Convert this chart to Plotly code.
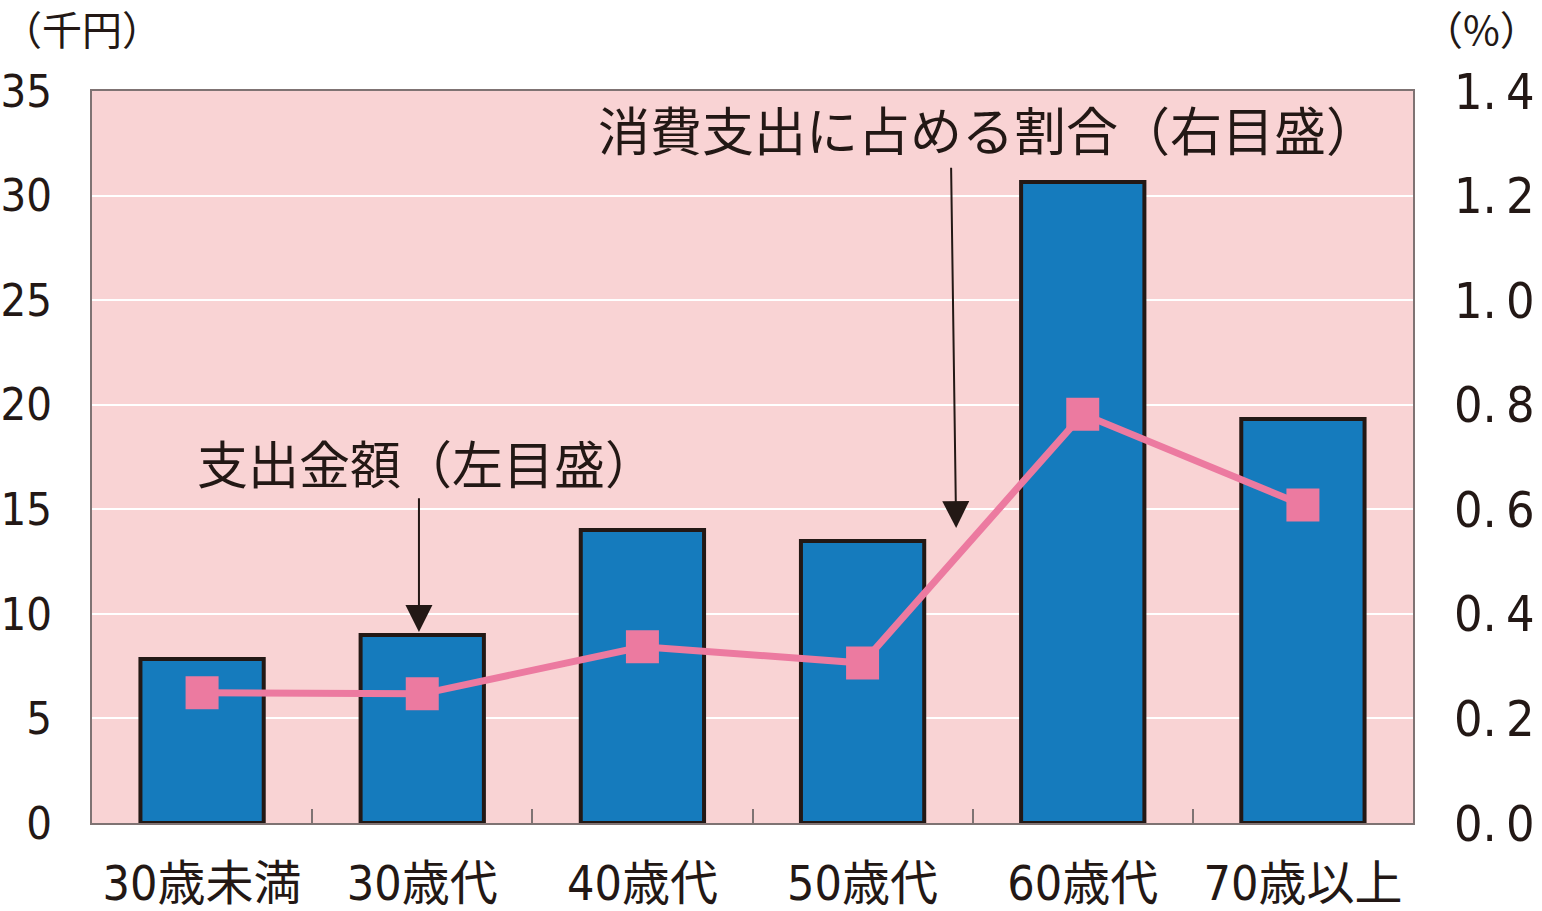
import plotly.graph_objects as go

# Data
categories = ['30歳未満', '30歳代', '40歳代', '50歳代', '60歳代', '70歳以上']
spending = [7.84, 8.99, 14.01, 13.48, 30.65, 19.32]     # 千円 (left axis)
share = [0.249, 0.247, 0.337, 0.306, 0.782, 0.608]      # % (right axis)
left_ticks = [0, 5, 10, 15, 20, 25, 30, 35]
right_ticks = [0.0, 0.2, 0.4, 0.6, 0.8, 1.0, 1.2, 1.4]
right_tick_labels = ['0.\u20090', '0.\u20092', '0.\u20094', '0.\u20096',
                     '0.\u20098', '1.\u20090', '1.\u20092', '1.\u20094']

TEXT = '#231815'
FONT = 'DejaVu Sans Condensed, Noto Sans CJK JP, sans-serif'
JP_FONT = 'Noto Sans CJK JP, sans-serif'

fig = go.Figure()

fig.add_trace(go.Bar(
    x=categories,
    y=spending,
    marker=dict(color='#157bbd', line=dict(color=TEXT, width=4)),
    yaxis='y',
    hoverinfo='skip'
))

fig.add_trace(go.Scatter(
    x=categories,
    y=share,
    mode='lines+markers',
    line=dict(color='#ec7aa0', width=7),
    marker=dict(symbol='square', size=33, color='#ec7aa0'),
    yaxis='y2',
    hoverinfo='skip'
))

fig.update_layout(
    width=1542,
    height=911,
    margin=dict(l=92, r=129, t=91, b=88),
    paper_bgcolor='white',
    plot_bgcolor='#f9d3d4',
    showlegend=False,
    bargap=0.44,
    font=dict(family=FONT, color=TEXT, size=52),
    xaxis=dict(
        automargin=False,
        showline=True, linecolor='#7f7373', linewidth=2, mirror=True,
        ticks='inside', tickson='boundaries', ticklen=14, tickcolor='#7f7373',
        tickwidth=1.5, showgrid=False,
        tickfont=dict(family=FONT, size=48, color=TEXT),
        ticklabelstandoff=17,
    ),
    yaxis=dict(
        automargin=False,
        range=[0, 35], tickvals=left_ticks,
        showline=True, linecolor='#7f7373', linewidth=2, mirror=True,
        showgrid=True, gridcolor='white', gridwidth=2, zeroline=False,
        ticks='', tickfont=dict(family=FONT, size=45, color=TEXT),
        ticklabelstandoff=29,
    ),
    yaxis2=dict(
        automargin=False,
        range=[0, 1.4], tickvals=right_ticks, ticktext=right_tick_labels,
        overlaying='y', side='right', showgrid=False, zeroline=False,
        ticks='', tickfont=dict(family=FONT, size=50, color=TEXT),
        ticklabelstandoff=40,
    ),
)

# Axis unit labels
fig.add_annotation(text='（千円）', xref='paper', yref='paper', x=-92 / 1321, y=1 + 63 / 732,
                   xanchor='left', yanchor='middle', showarrow=False,
                   font=dict(family=JP_FONT, size=40, color=TEXT))
fig.add_annotation(text='（%）', xref='paper', yref='paper', x=1 + 129 / 1321, y=1 + 63 / 732,
                   xanchor='right', yanchor='middle', showarrow=False,
                   font=dict(family=JP_FONT, size=40, color=TEXT))

# Series labels
fig.add_annotation(text='消費支出に占める割合（右目盛）', xref='x', yref='y', x=3.57, y=33.2,
                   xanchor='center', yanchor='middle', showarrow=False,
                   font=dict(family=JP_FONT, size=52, color=TEXT))
fig.add_annotation(text='支出金額（左目盛）', xref='x', yref='y', x=1.02, y=17.25,
                   xanchor='center', yanchor='middle', showarrow=False,
                   font=dict(family=JP_FONT, size=51, color=TEXT))

# Arrows
fig.add_annotation(text='', xref='x', yref='y', x=0.985, y=9.13,
                   axref='x', ayref='y', ax=0.985, ay=15.6,
                   showarrow=True, arrowhead=2, arrowsize=2.7, arrowwidth=2, arrowcolor=TEXT)
fig.add_annotation(text='', xref='x', yref='y', x=3.425, y=14.1,
                   axref='x', ayref='y', ax=3.402, ay=31.4,
                   showarrow=True, arrowhead=2, arrowsize=2.7, arrowwidth=2, arrowcolor=TEXT)

# page body has a default 8px margin; drop it so the figure fills the window
fig.write_html('out.html', config={'displayModeBar': False},
               post_script="document.body.style.margin='0';")
